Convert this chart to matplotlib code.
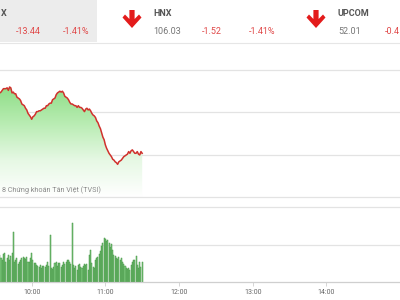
import numpy as np
import matplotlib
matplotlib.use('Agg')
import matplotlib.pyplot as plt
from matplotlib.patches import Rectangle, Polygon
from matplotlib.colors import LinearSegmentedColormap

plt.rcParams['font.family'] = ['Roboto', 'DejaVu Sans']

# ---------------- data ----------------
start_minute = 34  # first visible minute after 09:00

price = [
    947.3, 947.4, 947.6, 947.8, 947.8, 947.8, 947.9, 947.6, 948.0, 947.9,
    947.3, 947.4, 947.2, 947.2, 946.8, 946.7, 946.6, 946.4, 946.0, 945.9,
    945.8, 945.5, 945.3, 944.9, 944.7, 944.5, 944.2, 944.5, 944.6, 944.8,
    945.1, 945.1, 945.2, 945.2, 945.3, 945.4, 945.5, 945.5, 945.8, 945.8,
    946.0, 946.1, 946.1, 946.5, 946.6, 946.7, 947.1, 947.3, 947.4, 947.5,
    947.4, 947.5, 947.3, 946.9, 946.8, 946.7, 946.5, 946.2, 946.0, 946.0,
    945.9, 945.8, 945.8, 945.6, 945.8, 945.6, 945.6, 945.5, 945.3, 945.1,
    945.4, 945.5, 945.3, 945.4, 945.2, 944.9, 944.7, 944.6, 944.4, 944.0,
    943.8, 943.4, 943.1, 942.6, 942.1, 941.8, 941.2, 940.8, 940.5, 940.2,
    940.0, 939.8, 939.5, 939.4, 939.2, 939.1, 938.9, 939.2, 939.3, 939.4,
    939.6, 939.8, 939.9, 940.0, 940.1, 940.4, 940.2, 940.5, 940.6, 940.4,
    940.2, 940.2, 940.4, 940.1, 940.0, 940.4, 940.2,
]

volume = [
    216, 192, 176, 224, 232, 160, 192, 216, 176, 208,
    232, 400, 160, 176, 192, 144, 160, 176, 192, 200,
    192, 184, 200, 160, 160, 192, 232, 176, 152, 152,
    136, 128, 120, 136, 112, 128, 128, 120, 136, 160,
    128, 376, 112, 104, 120, 152, 160, 128, 152, 152,
    120, 136, 160, 144, 160, 176, 176, 160, 144, 472,
    136, 112, 128, 96, 136, 144, 120, 112, 128, 144,
    136, 144, 96, 216, 256, 152, 120, 112, 176, 192,
    200, 224, 248, 288, 312, 352, 344, 328, 336, 312,
    280, 304, 256, 216, 208, 192, 184, 200, 176, 192,
    160, 144, 128, 112, 104, 112, 96, 136, 160, 176,
    176, 208, 136, 112, 160, 120, 160,
]

tick_minutes = [60, 120, 180, 240, 300]
tick_labels = ['10:00', '11:00', '12:00', '13:00', '14:00']
grid_prices = [940, 945, 950]
grid_volumes = [300, 600]

# visible parts of the index header (the left and right ends are cropped)
idx_names = ['X', 'HNX', 'UPCOM']
idx_values = ['', '106.03', '52.01']
idx_changes = ['-13.44', '-1.52', '-0.4']
idx_pcts = ['-1.41%', '-1.41%', '']

minutes = np.arange(start_minute, start_minute + len(price))
x_range = (34.2, 360)
price_range = (935.06, 953.29)
vol_top = 680

# ---------------- figure ----------------
fig = plt.figure(figsize=(4, 3), dpi=100)
fig.patch.set_facecolor('white')

ov = fig.add_axes([0, 0, 1, 1])
ov.set_xlim(0, 400)
ov.set_ylim(300, 0)
ov.axis('off')

# header
ov.add_patch(Rectangle((0, 0), 97, 42, facecolor='#ececec', edgecolor='none'))
ov.plot([0, 400], [42.5, 42.5], color='#e6e6e6', lw=0.8)

red = '#e04848'
name_x = [0.5, 153, 338]
value_x = [0, 153, 338]
change_x = [16, 202, 385]
pct_x = [63, 249, 0]
for i in range(3):
    ov.text(name_x[i], 13, idx_names[i], fontsize=6.5, fontweight='bold', color='#555555',
            va='center', ha='left')
    if idx_values[i]:
        ov.text(value_x[i], 31, idx_values[i], fontsize=6.5, color='#777777',
                va='center', ha='left')
    if idx_changes[i]:
        ov.text(change_x[i], 31, idx_changes[i], fontsize=6.5, color=red,
                va='center', ha='left')
    if idx_pcts[i]:
        ov.text(pct_x[i], 31, idx_pcts[i], fontsize=6.5, color=red,
                va='center', ha='left')

for cx in [132, 316]:
    pts = [(cx - 2.6, 10), (cx + 2.6, 10), (cx + 2.6, 19), (cx + 7, 14.5),
           (cx + 9.5, 17.5), (cx, 28), (cx - 9.5, 17.5), (cx - 7, 14.5), (cx - 2.6, 19)]
    ov.add_patch(Polygon(pts, closed=True, facecolor='#e31b1b', edgecolor='none'))

# price pane
axp = fig.add_axes([0, (300 - 197) / 300, 1, 155 / 300])
axp.set_facecolor('none')
for g in grid_prices:
    axp.axhline(g, color='#e3e3e3', lw=0.9, zorder=0)
for s in ['top', 'left', 'right']:
    axp.spines[s].set_visible(False)
axp.spines['bottom'].set_color('#e3e3e3')
axp.spines['bottom'].set_linewidth(0.9)
axp.set_xticks([])
axp.set_yticks([])

poly = axp.fill_between(minutes, price, price_range[0], color='none', lw=0)
grad = np.linspace(1, 0, 256).reshape(-1, 1)
cmap = LinearSegmentedColormap.from_list('g', ['#ffffff', '#e6f8e4', '#b8ecb2', '#8edd86'])
im = axp.imshow(grad, extent=[minutes[0], minutes[-1], price_range[0], max(price)],
                aspect='auto', cmap=cmap, origin='upper', zorder=1)
im.set_clip_path(poly.get_paths()[0], transform=axp.transData)
axp.set_xlim(*x_range)
axp.set_ylim(*price_range)
axp.plot(minutes, price, color='#d0312d', lw=1.1, zorder=3)

fig.text(2 / 400, 1 - 190 / 300, '8 Chứng khoán Tân Việt (TVSI)', fontsize=5.2,
         color='#8a8a8a', va='center', ha='left', zorder=10)

# volume pane
axv = fig.add_axes([0, (300 - 282) / 300, 1, 85 / 300])
axv.set_facecolor('none')
axv.set_xlim(*x_range)
axv.set_ylim(0, vol_top)
for g in grid_volumes:
    axv.axhline(g, color='#e3e3e3', lw=0.9, zorder=0)
axv.bar(minutes, volume, width=0.85, color='#7fca7f', edgecolor='#449444',
        linewidth=0.35, zorder=2)
for s in ['top', 'left', 'right']:
    axv.spines[s].set_visible(False)
axv.spines['bottom'].set_color('#cfcfcf')
axv.spines['bottom'].set_linewidth(0.9)
axv.set_yticks([])
axv.set_xticks(tick_minutes)
axv.set_xticklabels(tick_labels)
axv.tick_params(axis='x', length=3, width=0.6, color='#cfcfcf', labelsize=5,
                labelcolor='#666666', pad=2)

fig.savefig('out.png', dpi=100)
